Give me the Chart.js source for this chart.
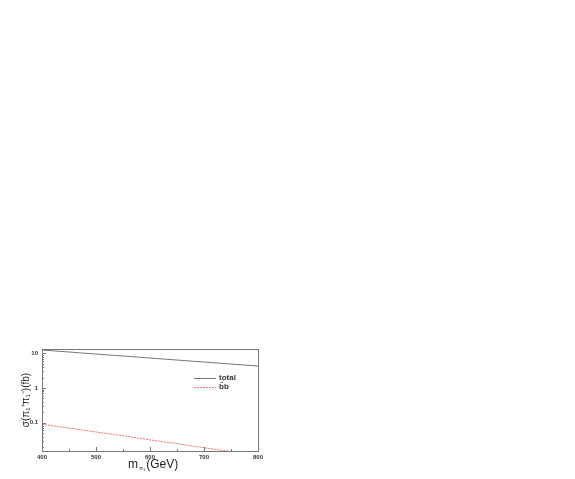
<!DOCTYPE html>
<html lang="en">
<head>
    <meta charset="UTF-8">
    <title>Cross section vs mass</title>
    <script src="https://cdn.jsdelivr.net/npm/chart.js"></script>
    <style>
        body { margin: 0; background: #fff; }
        canvas { display: block; }
    </style>
</head>
<body>
    <canvas id="xsecChart" width="575" height="479"></canvas>

    <script>
        // values
        const massValues = [400, 450, 500, 550, 600, 650, 700, 750, 800];
        const totalXsec = [12.4, 10.9, 9.5, 8.35, 7.3, 6.4, 5.6, 4.9, 4.3];
        const bbXsec = [0.090, 0.070, 0.054, 0.042, 0.032, 0.025, 0.019, 0.0148, 0.0115];
        const xTicks = [400, 500, 600, 700, 800];
        const yTicks = [0.1, 1, 10];
        const seriesNames = ['total', 'b\u0304b'];

        const toPoints = (ys) => massValues.map((m, i) => ({ x: m, y: ys[i] }));
        const FONT = '"Liberation Sans", Arial, sans-serif';

        // ROOT-like frame, inward ticks, legend and axis titles
        const framePlugin = {
            id: 'frame',
            afterDraw(chart) {
                const { ctx, chartArea: a, scales } = chart;
                const xs = scales.x, ys = scales.y;
                ctx.save();
                ctx.strokeStyle = '#777';
                ctx.lineWidth = 1;
                ctx.strokeRect(a.left + 0.5, a.top + 0.5, a.right - a.left, a.bottom - a.top);

                // x ticks (major every 100, minor every 50)
                ctx.beginPath();
                for (let v = 400; v <= 800; v += 50) {
                    const px = Math.round(xs.getPixelForValue(v)) + 0.5;
                    const len = v % 100 === 0 ? 4 : 2;
                    ctx.moveTo(px, a.bottom);
                    ctx.lineTo(px, a.bottom - len);
                }
                // y ticks on log scale
                for (let dec = 0.01; dec <= 10; dec *= 10) {
                    for (let k = 1; k <= 9; k++) {
                        const v = dec * k;
                        if (v < ys.min || v > ys.max) continue;
                        const py = Math.round(ys.getPixelForValue(v)) + 0.5;
                        const len = k === 1 ? 4 : 2;
                        ctx.moveTo(a.left, py);
                        ctx.lineTo(a.left + len, py);
                    }
                }
                ctx.stroke();

                // legend
                const ds = chart.data.datasets;
                const lx = 194, ly = [378, 387];
                ctx.font = 'bold 8px ' + FONT;
                ctx.textBaseline = 'middle';
                ds.forEach((d, i) => {
                    ctx.strokeStyle = d.borderColor;
                    ctx.setLineDash(d.borderDash || []);
                    ctx.beginPath();
                    ctx.moveTo(lx, ly[i] + 0.5);
                    ctx.lineTo(lx + 22, ly[i] + 0.5);
                    ctx.stroke();
                    ctx.setLineDash([]);
                    ctx.fillStyle = '#333';
                    ctx.fillText(d.label, lx + 25, ly[i]);
                });

                // x title: m with subscript
                ctx.fillStyle = '#222';
                ctx.textBaseline = 'alphabetic';
                ctx.font = '12px ' + FONT;
                let tx = 128;
                const ty = 468;
                ctx.fillText('m', tx, ty);
                tx += ctx.measureText('m').width + 1;
                ctx.font = '6px ' + FONT;
                ctx.fillText('\u03c0\u2081', tx, ty + 2);
                tx += ctx.measureText('\u03c0\u2081').width + 1;
                ctx.font = '12px ' + FONT;
                ctx.fillText('(GeV)', tx, ty);

                // y title, rotated
                ctx.save();
                ctx.translate(26, 400);
                ctx.rotate(-Math.PI / 2);
                ctx.textAlign = 'center';
                ctx.textBaseline = 'middle';
                ctx.font = '10px ' + FONT;
                ctx.fillText('\u03c3(\u03c0\u2081\u207a\u03c0\u2081\u207b)(fb)', 0, 0);
                ctx.restore();
                ctx.restore();
            }
        };

        const ctx = document.getElementById('xsecChart').getContext('2d');
        const chart = new Chart(ctx, {
            type: 'line',
            data: {
                datasets: [{
                    label: seriesNames[0],
                    data: toPoints(totalXsec),
                    borderColor: '#777',
                    borderWidth: 1,
                    pointRadius: 0,
                    tension: 0
                }, {
                    label: seriesNames[1],
                    data: toPoints(bbXsec),
                    borderColor: '#f07070',
                    borderWidth: 1,
                    borderDash: [2, 1],
                    pointRadius: 0,
                    tension: 0
                }]
            },
            options: {
                responsive: false,
                animation: false,
                layout: { padding: { left: 0, right: 317, top: 349, bottom: 0 } },
                plugins: {
                    legend: { display: false },
                    tooltip: { enabled: false }
                },
                scales: {
                    x: {
                        type: 'linear',
                        min: 400,
                        max: 800,
                        grid: { display: false, drawTicks: false },
                        border: { display: false },
                        afterBuildTicks: (s) => { s.ticks = xTicks.map(v => ({ value: v })); },
                        afterFit: (s) => { s.height = 28; },
                        ticks: {
                            padding: 3,
                            maxRotation: 0,
                            color: '#333',
                            font: { size: 6, weight: 'bold', family: FONT }
                        }
                    },
                    y: {
                        type: 'logarithmic',
                        min: 0.0153,
                        max: 13.3,
                        grid: { display: false, drawTicks: false },
                        border: { display: false },
                        afterBuildTicks: (s) => { s.ticks = yTicks.map(v => ({ value: v })); },
                        afterFit: (s) => { s.width = 42; },
                        ticks: {
                            padding: 4,
                            color: '#333',
                            font: { size: 6, weight: 'bold', family: FONT },
                            callback: (v) => String(v)
                        }
                    }
                }
            },
            plugins: [framePlugin]
        });
    </script>
</body>
</html>
